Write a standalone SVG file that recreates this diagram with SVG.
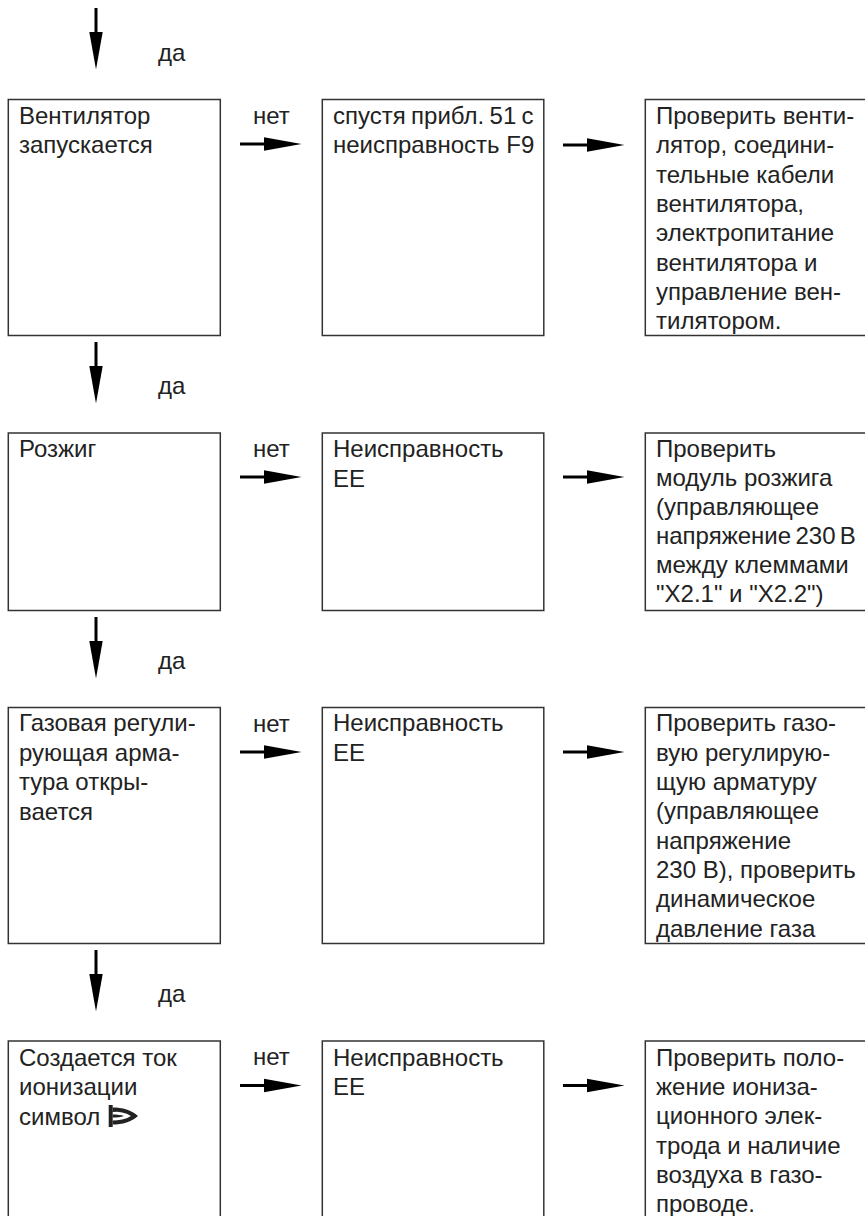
<svg xmlns="http://www.w3.org/2000/svg" width="865" height="1216" viewBox="0 0 865 1216">
<style>
text{font-family:"Liberation Sans",Arial,sans-serif;font-size:24px;fill:#222}
.b{fill:#fff;stroke:#333;stroke-width:1.5}
.s{stroke:#000;stroke-width:3;fill:none}
.h{fill:#000}
</style>
<defs>
<g id="ad"><path class="s" d="M96 0V30"/><path class="h" d="M89.3 24H102.7L96 61.5Z"/></g>
<g id="ar"><path class="s" d="M0 0H30"/><path class="h" d="M24 -6.7L61.5 0L24 6.7Z"/></g>
</defs>
<rect width="865" height="1216" fill="#fff"/>
<g id="connectors">
<use href="#ad" y="8"/><use href="#ad" y="342"/><use href="#ad" y="617"/><use href="#ad" y="950"/>
<use href="#ar" x="240" y="144"/><use href="#ar" x="563" y="145"/>
<use href="#ar" x="240" y="477"/><use href="#ar" x="563" y="477"/>
<use href="#ar" x="240" y="752"/><use href="#ar" x="563" y="752"/>
<use href="#ar" x="240" y="1085.5"/><use href="#ar" x="563" y="1085.5"/>
<text x="158" y="61">да</text><text x="158" y="394">да</text><text x="158" y="669">да</text><text x="158" y="1002">да</text>
<text x="253" y="124">нет</text><text x="253" y="457">нет</text><text x="253" y="732">нет</text><text x="253" y="1065">нет</text>
</g>
<g id="n1a"><rect class="b" x="8.3" y="99.5" width="212" height="236"/><text x="19" y="124">Вентилятор<tspan x="19" dy="29.4">запускается</tspan></text></g>
<g id="n1b"><rect class="b" x="322.3" y="99.5" width="221.5" height="236"/><text x="333" y="124"><tspan word-spacing="-1.3">спустя прибл. 51 с</tspan><tspan x="333" dy="29.4">неисправность F9</tspan></text></g>
<g id="n1c"><rect class="b" x="645.3" y="99.5" width="240" height="236"/><text x="656" y="124">Проверить венти-<tspan x="656" dy="29.3">лятор, соедини-</tspan><tspan x="656" dy="29.3">тельные кабели</tspan><tspan x="656" dy="29.3">вентилятора,</tspan><tspan x="656" dy="29.3">электропитание</tspan><tspan x="656" dy="29.3">вентилятора и</tspan><tspan x="656" dy="29.3">управление вен-</tspan><tspan x="656" dy="29.3">тилятором.</tspan></text></g>
<g id="n2a"><rect class="b" x="8.3" y="433" width="212" height="177.5"/><text x="19" y="457.4">Розжиг</text></g>
<g id="n2b"><rect class="b" x="322.3" y="433" width="221.5" height="177.5"/><text x="333" y="457.4">Неисправность<tspan x="333" dy="29.4">EE</tspan></text></g>
<g id="n2c"><rect class="b" x="645.3" y="433" width="240" height="177.5"/><text x="656" y="457.4">Проверить<tspan x="656" dy="29">модуль розжига</tspan><tspan x="656" dy="29">(управляющее</tspan><tspan x="656" dy="29" word-spacing="-2.3">напряжение 230 В</tspan><tspan x="656" dy="29">между клеммами</tspan><tspan x="656" dy="29">"X2.1" и "X2.2")</tspan></text></g>
<g id="n3a"><rect class="b" x="8.3" y="707.5" width="212" height="236"/><text x="19" y="731.4">Газовая регули-<tspan x="19" dy="29.4">рующая арма-</tspan><tspan x="19" dy="29.4">тура откры-</tspan><tspan x="19" dy="29.4">вается</tspan></text></g>
<g id="n3b"><rect class="b" x="322.3" y="707.5" width="221.5" height="236"/><text x="333" y="731.4">Неисправность<tspan x="333" dy="29.4">EE</tspan></text></g>
<g id="n3c"><rect class="b" x="645.3" y="707.5" width="240" height="236"/><text x="656" y="731.4">Проверить газо-<tspan x="656" dy="29.3">вую регулирую-</tspan><tspan x="656" dy="29.3">щую арматуру</tspan><tspan x="656" dy="29.3">(управляющее</tspan><tspan x="656" dy="29.3">напряжение</tspan><tspan x="656" dy="29.3">230 В), проверить</tspan><tspan x="656" dy="29.3">динамическое</tspan><tspan x="656" dy="29.3">давление газа</tspan></text></g>
<g id="n4a"><rect class="b" x="8.3" y="1041" width="212" height="200"/><text x="19" y="1065.7">Создается ток<tspan x="19" dy="29.4">ионизации</tspan><tspan x="19" dy="29.4">символ</tspan></text>
<path fill="#222" fill-rule="evenodd" d="M108.7 1105H112.7V1127H108.7ZM112.5 1107.5C122 1107.5 132 1110 138 1116C132 1122 122 1124.5 112.5 1124.5V1120.5C119 1120.5 125.5 1119.5 131 1116C125.5 1112.5 119 1111.5 112.5 1111.5ZM112.5 1114.5C117 1114.5 121 1115 124 1116C121 1117 117 1117.5 112.5 1117.5Z"/></g>
<g id="n4b"><rect class="b" x="322.3" y="1041" width="221.5" height="200"/><text x="333" y="1065.7">Неисправность<tspan x="333" dy="29.4">EE</tspan></text></g>
<g id="n4c"><rect class="b" x="645.3" y="1041" width="240" height="200"/><text x="656" y="1065.7">Проверить поло-<tspan x="656" dy="29.3">жение иониза-</tspan><tspan x="656" dy="29.3">ционного элек-</tspan><tspan x="656" dy="29.3">трода и наличие</tspan><tspan x="656" dy="29.3">воздуха в газо-</tspan><tspan x="656" dy="29.3">проводе.</tspan></text></g>
</svg>
